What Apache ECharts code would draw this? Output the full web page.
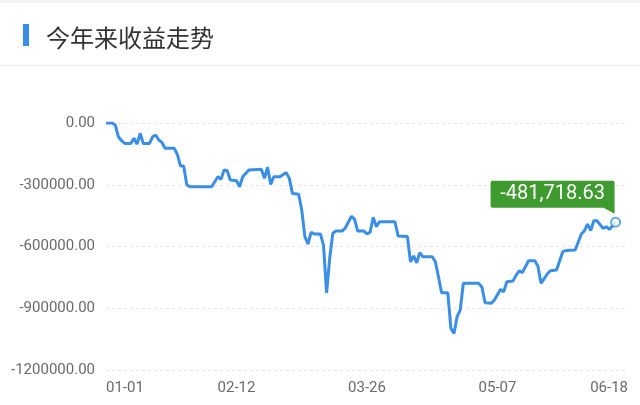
<!DOCTYPE html>
<html>
<head>
<meta charset="utf-8">
<script src="https://cdn.jsdelivr.net/npm/echarts@6/dist/echarts.min.js"></script>
<style>
html,body{margin:0;padding:0;background:#fff;}
#chart{width:640px;height:405px;}
</style>
</head>
<body>
<div id="chart"></div>
<script>
// Day offsets from 01-01 and cumulative return values
var days = [0,2,3,4,5,6,8,9,10,11,12,14,15,16,17,18,19,22,23,24,25,26,27,34,36,37,38,39,40,42,43,44,46,50,51,52,53,54,56,58,59,60,62,63,64,65,66,67,69,70,71,72,73,74,76,77,79,80,81,83,84,85,86,87,88,93,94,97,98,99,100,101,102,105,106,107,108,110,111,112,113,114,115,120,121,122,124,125,127,128,129,131,132,133,134,136,138,139,140,142,143,145,147,148,151,153,154,155,156,157,158,160,161,162,164];
var values = [0,0,-10000,-67000,-86000,-99000,-99000,-74000,-103000,-50000,-99000,-99000,-67000,-58000,-83000,-94000,-123000,-123000,-155000,-209000,-209000,-300000,-310000,-310000,-261000,-274000,-228000,-232000,-277000,-280000,-310000,-261000,-228000,-225000,-269000,-215000,-298000,-261000,-261000,-241000,-269000,-342000,-346000,-423000,-552000,-588000,-531000,-539000,-539000,-593000,-825000,-656000,-536000,-525000,-525000,-510000,-453000,-468000,-525000,-525000,-539000,-530000,-458000,-504000,-480000,-480000,-549000,-552000,-674000,-646000,-679000,-630000,-650000,-650000,-674000,-747000,-825000,-825000,-998000,-1022000,-941000,-909000,-779000,-779000,-798000,-873000,-876000,-860000,-808000,-820000,-771000,-768000,-739000,-718000,-727000,-669000,-669000,-695000,-779000,-734000,-718000,-714000,-625000,-620000,-617000,-539000,-523000,-491000,-523000,-475000,-475000,-512000,-504000,-517000,-481718.63];
var xTickLabels = ['01-01','02-12','03-26','05-07','06-18'];
var yTicks = [0,-300000,-600000,-900000,-1200000];

var pts = days.map(function(d,i){return [d, values[i]];});
var last = pts[pts.length-1];

function fmtMoney(v){
  var s = Math.abs(v).toFixed(2).split('.');
  s[0] = s[0].replace(/\B(?=(\d{3})+(?!\d))/g, ',');
  return (v<0?'-':'') + s.join('.');
}

var chart = echarts.init(document.getElementById('chart'), null, {renderer:'canvas'});
var blue = '#3a8ee6';
chart.setOption({
  animation:false,
  backgroundColor:'#fff',
  title:{
    text:'今年来收益走势',
    left:41, top:21,
    textStyle:{fontFamily:'Noto Sans CJK SC', fontSize:24, fontWeight:'normal', color:'#333'}
  },
  graphic:[
    {type:'rect', shape:{x:0,y:0,width:640,height:3}, style:{fill:'#f3f3f3'}},
    {type:'rect', shape:{x:23,y:24,width:6,height:22}, style:{fill:blue}},
    {type:'rect', shape:{x:0,y:65,width:640,height:1}, style:{fill:'#ececec'}}
  ],
  grid:{left:106, right:12, top:123, bottom:35},
  xAxis:{
    type:'value', min:0, max:168, interval:42,
    axisLine:{show:false}, axisTick:{show:false}, splitLine:{show:false},
    axisLabel:{
      color:'#6a6a6a', fontSize:15, fontFamily:'Roboto', margin:11,
      alignMinLabel:'left', alignMaxLabel:'right',
      formatter:function(v){return xTickLabels[Math.round(v/42)] || '';}
    }
  },
  yAxis:{
    type:'value', min:yTicks[yTicks.length-1], max:yTicks[0], interval:300000,
    axisLine:{show:false}, axisTick:{show:false},
    splitLine:{lineStyle:{type:[3,3], color:'#e6e6e6'}},
    axisLabel:{color:'#6a6a6a', fontSize:15, fontFamily:'Roboto', margin:11,
      formatter:function(v){return v.toFixed(2);}}
  },
  series:[
    {
      type:'line', data:pts, showSymbol:false, symbol:'none',
      lineStyle:{color:blue, width:3}, itemStyle:{color:blue},
      markPoint:{
        symbol:'path://M2 0 H122 Q124 0 124 2 V33 L113 27 H2 Q0 27 0 25 V2 Q0 0 2 0 Z',
        symbolSize:[124,33],
        symbolOffset:[-63,-25],
        itemStyle:{color:'#3f9a2f'},
        label:{show:true, position:'inside', offset:[0,-3], color:'#fff', fontSize:20, fontFamily:'Roboto',
          formatter:function(p){return fmtMoney(p.value);}},
        data:[{coord:last, value:last[1]}]
      }
    },
    {
      type:'scatter', data:[last], symbol:'circle', symbolSize:9,
      itemStyle:{color:'#fff', borderColor:blue, borderWidth:2}, z:5
    }
  ]
});
</script>
</body>
</html>
